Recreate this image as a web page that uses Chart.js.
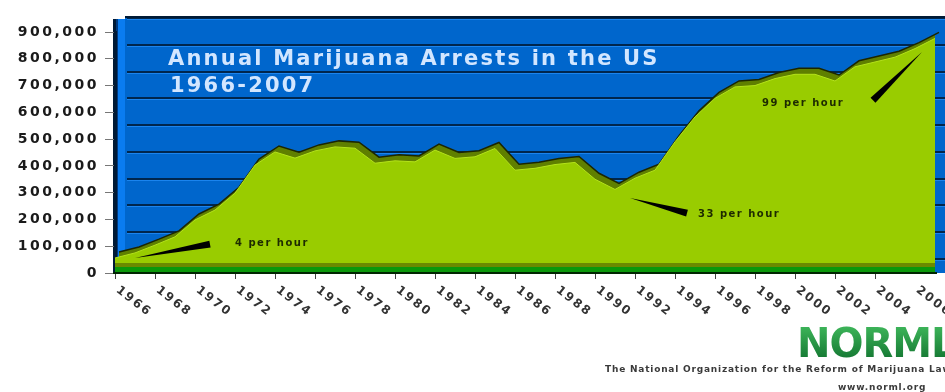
<!DOCTYPE html>
<html>
<head>
<meta charset="utf-8">
<title>Annual Marijuana Arrests in the US</title>
<script src="https://cdn.jsdelivr.net/npm/chart.js@4.4.1/dist/chart.umd.min.js"></script>
<style>
  html, body { margin: 0; padding: 0; background: #fff; }
  #wrap { width: 945px; height: 392px; position: relative; }
</style>
</head>
<body>
<div id="wrap"><canvas id="chartArrests"></canvas></div>
<script>
var years = [1966, 1967, 1968, 1969, 1970, 1971, 1972, 1973, 1974, 1975,
  1976, 1977, 1978, 1979, 1980, 1981, 1982, 1983, 1984, 1985,
  1986, 1987, 1988, 1989, 1990, 1991, 1992, 1993, 1994, 1995,
  1996, 1997, 1998, 1999, 2000, 2001, 2002, 2003, 2004, 2005,
  2006, 2007];
var arrests = [56000, 75000, 104000, 135000, 198000, 235000, 298000, 403000, 452000, 429000,
  456000, 471000, 466000, 410000, 419000, 415000, 459000, 428000, 434000, 465000,
  384000, 391000, 405000, 413000, 350000, 312000, 354000, 384000, 490000, 583000,
  652000, 695000, 700000, 726000, 742000, 742000, 717000, 770000, 788000, 806000,
  838000, 876000];
var yearLabels = ['1966', '1968', '1970', '1972', '1974', '1976', '1978', '1980', '1982', '1984',
  '1986', '1988', '1990', '1992', '1994', '1996', '1998', '2000', '2002', '2004', '2006'];
var titleLines = ['Annual Marijuana Arrests in the US', '1966-2007'];

// callouts: arrow from/to and text anchor, in (year, arrests)
var callouts = [
  { text: '4 per hour', from: [1967.0, 56000], to: [1970.75, 108000], at: [1972.0, 112000] },
  { text: '33 per hour', from: [1991.75, 280000], to: [1994.6, 224000], at: [1995.15, 220000] },
  { text: '99 per hour', from: [2006.35, 825000], to: [2003.9, 645000], at: [1998.35, 634000] }
];

function pontos() {
  return years.map(function (ano, i) { return { x: ano, y: arrests[i] }; });
}

function cunha(ctx, x1, y1, x2, y2, w) {
  var dx = x2 - x1, dy = y2 - y1, len = Math.hypot(dx, dy);
  var nx = -dy / len * w, ny = dx / len * w;
  ctx.beginPath();
  ctx.moveTo(x1, y1);
  ctx.lineTo(x2 + nx, y2 + ny);
  ctx.lineTo(x2 - nx, y2 - ny);
  ctx.closePath();
  ctx.fill();
}

var wallPlugin = {
  id: 'wall',
  beforeDraw: function (chart) {
    var ctx = chart.ctx, a = chart.chartArea, y = chart.scales.y;
    var top = a.top - 16, depth = 14;
    ctx.save();
    ctx.fillStyle = '#0066cc';
    ctx.fillRect(a.left + 10, top, chart.width - a.left - 10, a.bottom - top);
    // side wall
    ctx.fillStyle = '#0a7cf0';
    ctx.fillRect(a.left + 1, top + 3, 9, a.bottom - top - 3);
    ctx.fillStyle = '#003a80';
    ctx.fillRect(a.left + 1, top + 3, 2, a.bottom - top - 3);
    // grid lines on the back wall
    y.ticks.forEach(function (t) {
      var py = Math.round(y.getPixelForValue(t.value)) - depth;
      ctx.fillStyle = '#00264d';
      ctx.fillRect(a.left + 12, py - 1, chart.width, 2);
      ctx.fillStyle = '#1a84ee';
      ctx.fillRect(a.left + 12, py + 1, chart.width, 1);
    });
    ctx.fillStyle = '#001a36';
    ctx.fillRect(a.left + 10, top, chart.width, 2);
    ctx.fillRect(a.left - 2, top + 3, 3, a.bottom - top - 3);
    ctx.restore();
    ctx.letterSpacing = '2.5px';
  },
  afterDatasetsDraw: function (chart) {
    var ctx = chart.ctx, a = chart.chartArea;
    var y0 = Math.round(chart.scales.y.getPixelForValue(0));
    var w = a.right - a.left;
    ctx.save();
    ctx.fillStyle = '#6b8a00';
    ctx.fillRect(a.left, y0 - 10, w, 4);
    ctx.fillStyle = '#0b990b';
    ctx.fillRect(a.left, y0 - 6, w, 5);
    ctx.fillStyle = '#002600';
    ctx.fillRect(a.left - 2, y0 - 1, w + 4, 2);
    ctx.restore();
  },
  afterDraw: function (chart) {
    var ctx = chart.ctx, x = chart.scales.x, y = chart.scales.y;
    ctx.save();

    // title
    ctx.fillStyle = '#d2e6ff';
    ctx.font = 'bold 21px "DejaVu Sans"';
    ctx.letterSpacing = '2.2px';
    ctx.textBaseline = 'middle';
    ctx.textAlign = 'left';
    ctx.fillText(titleLines[0], 168, 60);
    ctx.fillText(titleLines[1], 170, 87);

    // callouts
    ctx.font = 'bold 10px "DejaVu Sans"';
    ctx.letterSpacing = '1.5px';
    callouts.forEach(function (c) {
      ctx.fillStyle = '#000';
      cunha(ctx, x.getPixelForValue(c.from[0]), y.getPixelForValue(c.from[1]),
        x.getPixelForValue(c.to[0]), y.getPixelForValue(c.to[1]), 3.5);
      ctx.fillStyle = '#1d2a00';
      ctx.fillText(c.text, x.getPixelForValue(c.at[0]), y.getPixelForValue(c.at[1]));
    });

    // year labels, slanted down to the right
    ctx.fillStyle = '#333';
    ctx.font = 'bold 12px "DejaVu Sans"';
    ctx.letterSpacing = '2px';
    ctx.textBaseline = 'top';
    var base = chart.chartArea.bottom;
    yearLabels.forEach(function (lbl) {
      var px = x.getPixelForValue(Number(lbl));
      ctx.save();
      ctx.translate(px + 6, base + 11);
      ctx.rotate(0.66);
      ctx.fillText(lbl, 0, 0);
      ctx.restore();
    });

    // NORML mark
    var g = ctx.createLinearGradient(0, 327, 0, 358);
    g.addColorStop(0, '#3cb358');
    g.addColorStop(1, '#167a34');
    ctx.fillStyle = g;
    ctx.font = 'bold 40px "DejaVu Sans"';
    ctx.letterSpacing = '-1px';
    ctx.textBaseline = 'alphabetic';
    ctx.fillText('NORML', 797, 357);

    ctx.fillStyle = '#3a3a3a';
    ctx.font = 'bold 9px "DejaVu Sans"';
    ctx.letterSpacing = '0.8px';
    ctx.textBaseline = 'middle';
    ctx.fillText('The National Organization for the Reform of Marijuana Laws', 605, 370);
    ctx.fillText('www.norml.org', 838, 388);

    ctx.restore();
    ctx.letterSpacing = '0px';
  }
};

var ctxArrests = document.getElementById('chartArrests');

new Chart(ctxArrests, {
  type: 'line',
  data: {
    datasets: [{
      label: 'top',
      data: pontos(),
      xAxisID: 'xDepth',
      yAxisID: 'yDepth',
      fill: 'origin',
      backgroundColor: '#5f7f00',
      borderColor: '#1c2600',
      borderWidth: 1.5,
      pointRadius: 0,
      tension: 0,
      clip: false,
      order: 2
    }, {
      label: 'Arrests',
      data: pontos(),
      xAxisID: 'x',
      yAxisID: 'y',
      fill: 'origin',
      backgroundColor: '#99cc00',
      borderColor: '#b4e31a',
      borderWidth: 1,
      pointRadius: 0,
      tension: 0,
      clip: false,
      order: 1
    }]
  },
  options: {
    responsive: true,
    maintainAspectRatio: false,
    animation: false,
    layout: { padding: { top: 32, right: 10, left: 0, bottom: 0 } },
    plugins: {
      legend: { display: false },
      tooltip: { enabled: false }
    },
    scales: {
      x: {
        type: 'linear',
        min: 1966,
        max: 2007,
        afterFit: function (s) { s.height = 119; },
        ticks: { display: false, stepSize: 2 },
        grid: {
          drawOnChartArea: false,
          tickLength: 6,
          tickColor: function (c) {
            return c.tick && c.tick.value % 2 === 0 ? '#444' : 'rgba(0,0,0,0)';
          }
        },
        border: { display: false }
      },
      y: {
        min: 0,
        max: 900000,
        afterFit: function (s) { s.width = 115; },
        ticks: {
          stepSize: 100000,
          color: '#1a1a1a',
          padding: 6,
          font: { family: 'DejaVu Sans', size: 14, weight: 'bold' },
          callback: function (v) { return v.toLocaleString('en-US'); }
        },
        grid: { drawOnChartArea: false, tickLength: 10, tickColor: '#777' },
        border: { color: '#001a36', width: 3 }
      },
      xDepth: { type: 'linear', display: false, min: 1966 - 0.2, max: 2007 - 0.2 },
      yDepth: { display: false, min: -22400, max: 877600 }
    }
  },
  plugins: [wallPlugin]
});
</script>
</body>
</html>
